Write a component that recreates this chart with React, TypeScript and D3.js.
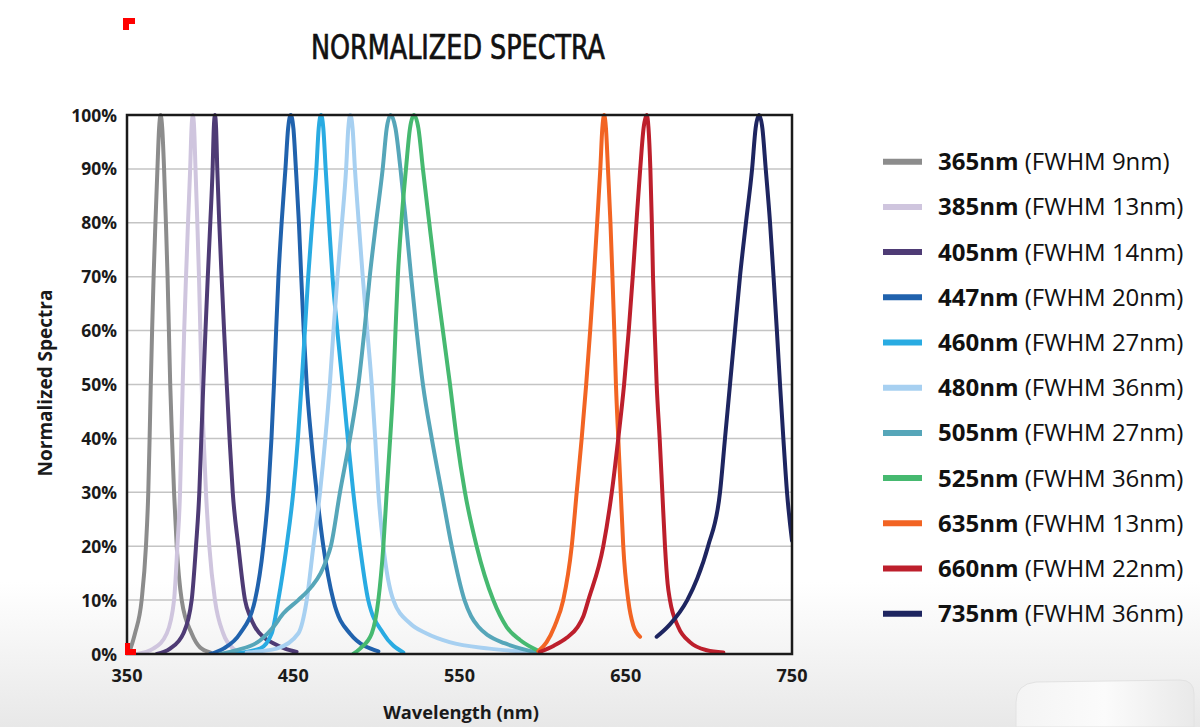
import React from 'react';
import * as d3 from 'd3';

type Pt = [number, number];

const WAVELENGTH_TICKS = [350, 450, 550, 650, 750];
const PERCENT_TICKS = [0, 10, 20, 30, 40, 50, 60, 70, 80, 90, 100];

const PEAK_LABELS = ['365nm', '385nm', '405nm', '447nm', '460nm', '480nm', '505nm', '525nm', '635nm', '660nm', '735nm'];
const FWHM_LABELS = ['(FWHM 9nm)', '(FWHM 13nm)', '(FWHM 14nm)', '(FWHM 20nm)', '(FWHM 27nm)', '(FWHM 36nm)', '(FWHM 27nm)', '(FWHM 36nm)', '(FWHM 13nm)', '(FWHM 22nm)', '(FWHM 36nm)'];
const COLORS = ['#8c8c8c', '#cfc5de', '#4e3b75', '#2062ad', '#29abe2', '#a7d0f1', '#56a6b9', '#46b970', '#f26423', '#bd1f2c', '#1e2560'];

const S365: Pt[] = [[351, 0], [354.8, 3.8], [358.8, 10], [361.4, 20], [362.8, 30], [363.6, 40], [364.3, 50], [365.1, 60], [366, 70], [367.1, 80], [368.3, 90], [369.3, 97.5], [370.2, 100], [371.2, 97.5], [372.3, 90], [373.4, 80], [374.4, 70], [375.2, 60], [376, 50], [377.1, 40], [378.3, 30], [379.9, 20], [382.9, 10], [388.9, 3.8], [394, 1.2], [400, 0.3]];
const S385: Pt[] = [[356, 0], [365.8, 1], [373.9, 3.8], [378.3, 10], [380.3, 20], [381.9, 30], [382.7, 40], [383.5, 50], [384.4, 60], [385.5, 70], [386.7, 80], [388, 90], [388.8, 97.5], [389.6, 100], [390.4, 97.5], [391.2, 90], [392.3, 80], [393.3, 70], [394.1, 60], [394.9, 50], [396.1, 40], [397.5, 30], [399.5, 20], [402.9, 10], [407.9, 3.8], [413.9, 1], [418, 0.3]];
const S405: Pt[] = [[368, 0], [375.9, 1], [383.9, 3.8], [388.9, 10], [391.5, 20], [393.5, 30], [394.7, 40], [395.9, 50], [397.2, 60], [398.6, 70], [400.1, 80], [401.5, 90], [402.2, 97.5], [402.9, 100], [403.6, 97.5], [404.3, 90], [405.5, 80], [406.9, 70], [408.4, 60], [410, 50], [411.7, 40], [413.6, 30], [417, 20], [421, 10], [424, 7], [427, 5], [432.5, 3], [438, 2], [445, 1], [452, 0.4]];
const S447: Pt[] = [[400, 0], [408, 1], [418, 3.8], [427, 10], [432, 20], [435, 30], [436.9, 40], [438.4, 50], [439.7, 60], [441.1, 70], [443, 80], [445.3, 90], [446.9, 97.5], [448.5, 100], [450.1, 97.5], [451.6, 90], [453.4, 80], [454.8, 70], [456.3, 60], [458.1, 50], [460.8, 40], [464.1, 30], [468.1, 20], [474.1, 10], [484.1, 3.8], [501.2, 0.5]];
const S460: Pt[] = [[412, 0], [430, 1], [437, 3.8], [441, 10], [446, 20], [450, 30], [452.8, 40], [455, 50], [457, 60], [459, 70], [461.4, 80], [463.9, 90], [465.3, 97.5], [466.7, 100], [468.1, 97.5], [469.5, 90], [471.5, 80], [473.6, 70], [476.5, 60], [479.7, 50], [482.8, 40], [486.1, 30], [490.1, 20], [495.1, 10], [504.2, 3.8], [516.2, 0.3]];
const S480: Pt[] = [[422, 0.3], [440, 1], [453, 3.8], [458.1, 10], [462.1, 20], [466.1, 30], [469.3, 40], [472, 50], [474.2, 60], [476.6, 70], [479.3, 80], [481.8, 90], [483.1, 97.5], [484.3, 100], [485.7, 97.5], [487.1, 90], [489.4, 80], [491.8, 70], [494.5, 60], [497.2, 50], [499.3, 40], [501.2, 30], [504.2, 20], [510.2, 10], [520.2, 5.7], [530.2, 3.8], [544, 2.2], [568, 1], [598, 0.3]];
const S505: Pt[] = [[406, 0], [416, 0.7], [430, 2.5], [438, 5], [444, 7.5], [453, 10], [461, 12.5], [466.5, 15], [470, 17.5], [472.6, 20], [478.1, 30], [484.1, 40], [489.2, 50], [492.8, 60], [496, 70], [499.8, 80], [503.8, 90], [506.2, 97.5], [508.6, 100], [511.5, 97.5], [514.5, 90], [517.8, 80], [520.9, 70], [524.2, 60], [528, 50], [533.3, 40], [539.3, 30], [545.3, 20], [553, 10], [557, 7], [561.5, 5], [567, 3.5], [577, 2], [587, 1], [596.4, 0.3]];
const S525: Pt[] = [[486.1, 0], [490.2, 1], [497.2, 3.8], [501.2, 10], [504.2, 20], [506.2, 30], [508.3, 40], [510.2, 50], [511.5, 60], [512.9, 70], [515, 80], [517.8, 90], [520.2, 97.5], [522.6, 100], [525.3, 97.5], [528, 90], [531.8, 80], [535.7, 70], [540, 60], [544.3, 50], [548.3, 40], [553.3, 30], [560.3, 20], [570.3, 10], [578.4, 5], [586.4, 2.6], [597.4, 0.6]];
const S635: Pt[] = [[597.4, 0.5], [602.4, 2.2], [607.4, 5.3], [612.4, 10], [617.5, 20], [620.5, 30], [623.5, 40], [626.2, 50], [628.6, 60], [630.8, 70], [632.8, 80], [634.7, 90], [635.9, 97.5], [637, 100], [638.1, 97.5], [639.3, 90], [640.8, 80], [642, 70], [643.1, 60], [644.1, 50], [645.5, 40], [647, 30], [648.5, 20], [651.5, 10], [654.5, 5.3], [658.6, 3.2]];
const S660: Pt[] = [[598.4, 0.4], [606.5, 1.5], [614.5, 3], [621, 5], [624.5, 7], [627.5, 10], [636.5, 20], [641.6, 30], [645.5, 40], [649, 50], [651.8, 60], [654.2, 70], [656.4, 80], [658.7, 90], [660.7, 97.5], [662.6, 100], [663.7, 97.5], [664.8, 90], [665.7, 80], [666.4, 70], [667.4, 60], [668.6, 50], [670.4, 40], [672, 30], [673.6, 20], [675.2, 13], [676.6, 10], [681.6, 5], [688.6, 2.2], [698.7, 0.7], [708.7, 0.3]];
const S735: Pt[] = [[668.6, 3.2], [676.6, 5.5], [687, 10], [693, 14], [699.5, 20], [706.7, 30], [709.7, 40], [712.7, 50], [715.7, 60], [718.7, 70], [722.3, 80], [726, 90], [728.1, 97.5], [730.2, 100], [732.2, 97.5], [734.2, 90], [736.8, 80], [738.9, 70], [740.9, 60], [742.8, 50], [744.8, 40], [747, 30], [750, 21]];

const SERIES: Pt[][] = [S365, S385, S405, S447, S460, S480, S505, S525, S635, S660, S735];

export default function App() {
  const W = 1200;
  const H = 727;
  const x = d3.scaleLinear().domain([350, 750]).range([127, 792]);
  const y = d3.scaleLinear().domain([0, 100]).range([654, 115]);
  const line = d3
    .line<Pt>()
    .x((d) => x(d[0]))
    .y((d) => y(d[1]))
    .curve(d3.curveMonotoneX);

  const x0 = x(350);
  const x1 = x(750);
  const yTop = y(100);
  const yBot = y(0);
  const font = "'Open Sans', 'Noto Sans', sans-serif";

  const legendX = 883;
  const legendY0 = 161.7;
  const legendStep = 45.2;

  return (
    <svg
      width={W}
      height={H}
      viewBox={`0 0 ${W} ${H}`}
      style={{ position: 'absolute', left: 0, top: 0, display: 'block' }}
    >
      <defs>
        <linearGradient id="bg" x1="0" y1="0" x2="0" y2="1">
          <stop offset="0" stopColor="#ffffff" />
          <stop offset="0.8" stopColor="#ffffff" />
          <stop offset="1" stopColor="#e8e8e8" />
        </linearGradient>
        <linearGradient id="box" x1="0" y1="0" x2="1" y2="0">
          <stop offset="0" stopColor="#f4f4f4" />
          <stop offset="0.5" stopColor="#fbfbfb" />
          <stop offset="1" stopColor="#e9e9e9" />
        </linearGradient>
        <clipPath id="plotClip">
          <rect x={x0} y={yTop - 4} width={x1 - x0} height={yBot - yTop + 4} />
        </clipPath>
      </defs>
      <rect x={0} y={0} width={W} height={H} fill="url(#bg)" />

      {/* product box decoration, bottom right */}
      <path d="M1016,727 L1016,702 Q1016,684 1036,682 L1180,680 Q1194,680 1194,694 L1194,727 Z" fill="url(#box)" stroke="#e2e2e2" strokeWidth={1} />

      <text
        x={458}
        y={59}
        textAnchor="middle"
        fontFamily="'DejaVu Sans Condensed', 'DejaVu Sans', sans-serif"
        fontSize={33}
        textLength={294}
        lengthAdjust="spacingAndGlyphs"
        fill="#111"
        stroke="#111"
        strokeWidth={0.7}
      >
        NORMALIZED SPECTRA
      </text>

      {/* grid */}
      {PERCENT_TICKS.filter((t) => t > 0 && t < 100).map((t) => (
        <line key={t} x1={x0} x2={x1} y1={y(t)} y2={y(t)} stroke="#c4c4c4" strokeWidth={1.5} />
      ))}

      {/* curves */}
      <g clipPath="url(#plotClip)">
        {SERIES.map((s, i) => (
          <path
            key={i}
            d={line(s) || ''}
            fill="none"
            stroke={COLORS[i]}
            strokeWidth={4}
            strokeLinecap="round"
            strokeLinejoin="round"
          />
        ))}
      </g>

      {/* frame */}
      <rect x={x0} y={yTop} width={x1 - x0} height={yBot - yTop} fill="none" stroke="#1a1a1a" strokeWidth={2.5} />

      {/* y tick labels */}
      {PERCENT_TICKS.map((t) => (
        <text
          key={t}
          x={117}
          y={y(t) + 6.5}
          textAnchor="end"
          fontFamily={font}
          fontWeight={700}
          fontSize={17.5}
          fill="#1a1a1a"
        >
          {`${t}%`}
        </text>
      ))}

      {/* x tick labels */}
      {WAVELENGTH_TICKS.map((t) => (
        <text
          key={t}
          x={x(t)}
          y={682}
          textAnchor="middle"
          fontFamily={font}
          fontWeight={700}
          fontSize={18}
          fill="#1a1a1a"
        >
          {t}
        </text>
      ))}

      <text x={461} y={719} textAnchor="middle" fontFamily={font} fontWeight={700} fontSize={18.3} fill="#1a1a1a">
        Wavelength (nm)
      </text>
      <text
        transform={`translate(52,383) rotate(-90)`}
        textAnchor="middle"
        fontFamily={font}
        fontWeight={700}
        fontSize={19}
        fill="#1a1a1a"
      >
        Normalized Spectra
      </text>

      {/* legend */}
      {PEAK_LABELS.map((lab, i) => {
        const cy = legendY0 + i * legendStep;
        return (
          <g key={lab + i}>
            <line x1={legendX} x2={legendX + 39} y1={cy} y2={cy} stroke={COLORS[i]} strokeWidth={6} />
            <text x={938} y={cy + 8.5} fontFamily={font} fontSize={24} fill="#111">
              <tspan fontWeight={700}>{lab}</tspan>
              <tspan fontWeight={400}>{' ' + FWHM_LABELS[i]}</tspan>
            </text>
          </g>
        );
      })}

      {/* crop marks */}
      <path d="M123,18 H135 V24 H129 V30 H123 Z" fill="#ff0000" />
      <path d="M125,643 H130 V649 H136 V655 H125 Z" fill="#ff0000" />
    </svg>
  );
}
